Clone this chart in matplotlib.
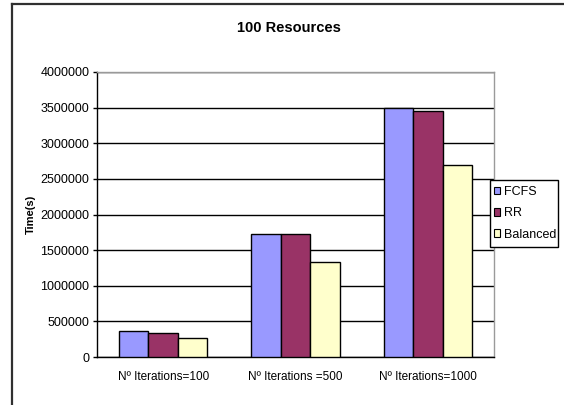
import matplotlib
matplotlib.use("Agg")
import matplotlib.pyplot as plt
import numpy as np
from matplotlib.lines import Line2D
from matplotlib.patches import Rectangle, Patch

plt.rcParams['font.family'] = ['Liberation Sans', 'DejaVu Sans']

categories = ["Nº Iterations=100", "Nº Iterations =500", "Nº Iterations=1000"]
series_names = ["FCFS", "RR", "Balanced"]
fcfs = [358000, 1726000, 3490000]
rr = [330000, 1726000, 3450000]
balanced = [265000, 1335000, 2700000]
yticks = [0, 500000, 1000000, 1500000, 2000000, 2500000, 3000000, 3500000, 4000000]
colors = ["#9999FF", "#993366", "#FFFFCC"]

W, H = 564, 405
fig = plt.figure(figsize=(W / 100, H / 100), dpi=100)
fig.patch.set_facecolor("white")

# outer chart frame (top and left edges)
fig.add_artist(Line2D([12 / W, 1.0], [1 - 4 / H, 1 - 4 / H],
                      transform=fig.transFigure, color="#303030", lw=1.6))
fig.add_artist(Line2D([12 / W, 12 / W], [0.0, 1 - 4 / H],
                      transform=fig.transFigure, color="#303030", lw=1.6))

ax = fig.add_axes([97 / W, 48 / H, 397 / W, 285 / H])

x = np.arange(len(categories))
width = 2 / 9
for i, (vals, name, c) in enumerate(zip([fcfs, rr, balanced], series_names, colors)):
    ax.bar(x + (i - 1) * width, vals, width, color=c, edgecolor="black",
           linewidth=1.0, label=name, zorder=3)

ax.set_xlim(-0.5, 2.5)
ax.set_ylim(0, 4000000)
ax.set_yticks(yticks)
ax.set_yticklabels([str(v) for v in yticks], fontsize=9)
ax.set_xticks(x)
ax.set_xticklabels(categories, fontsize=8.5)
ax.tick_params(axis="x", length=0, pad=10)
ax.tick_params(axis="y", length=3, width=1, pad=2.5, direction="out")

ax.yaxis.grid(True, color="black", linewidth=1.0, zorder=0)
ax.set_axisbelow(True)

for side in ("top", "right"):
    ax.spines[side].set_color("#9a9a9a")
    ax.spines[side].set_linewidth(1.0)
for side in ("left", "bottom"):
    ax.spines[side].set_color("black")
    ax.spines[side].set_linewidth(1.0)

ax.set_ylabel("Time(s)", fontsize=8, fontweight="bold")
ax.yaxis.set_label_coords(-0.155, 0.5)
fig.text(289 / W, 1 - 28 / H, "100 Resources", fontsize=10.5,
         fontweight="bold", ha="center", va="center")

# legend box
bx0, by0, bx1, by1 = 490, 180, 557.5, 246.5
fig.add_artist(Rectangle((bx0 / W, 1 - by1 / H), (bx1 - bx0) / W, (by1 - by0) / H,
                         transform=fig.transFigure, facecolor="white",
                         edgecolor="black", linewidth=1.0, zorder=9))
handles = [Patch(facecolor=c, edgecolor="black", linewidth=0.8, label=n)
           for c, n in zip(colors, series_names)]
leg = fig.legend(handles=handles, loc="center",
                 bbox_to_anchor=((bx0 + bx1) / 2 / W + 1 / W, 1 - (by0 + by1) / 2 / H),
                 fontsize=9, frameon=False, handlelength=0.55, handleheight=0.55,
                 handletextpad=0.25, borderpad=0, labelspacing=0.75,
                 borderaxespad=0)
leg.set_zorder(10)

fig.savefig("out.png", dpi=100)
